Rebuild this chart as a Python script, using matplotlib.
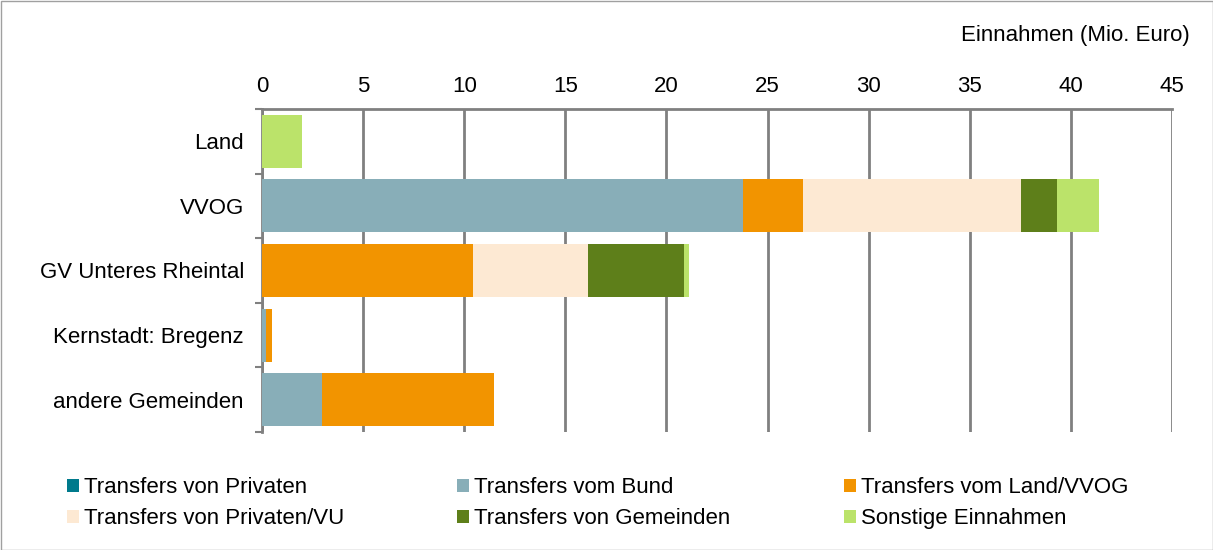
import matplotlib
matplotlib.use("Agg")
import matplotlib.pyplot as plt
from matplotlib.patches import Rectangle
import numpy as np

plt.rcParams['font.family'] = ['Liberation Sans', 'DejaVu Sans']

categories = ["Land", "VVOG", "GV Unteres Rheintal", "Kernstadt: Bregenz", "andere Gemeinden"]
series_names = ["Transfers von Privaten", "Transfers vom Bund", "Transfers vom Land/VVOG",
                "Transfers von Privaten/VU", "Transfers von Gemeinden", "Sonstige Einnahmen"]
privaten = [0.0, 0.0, 0.0, 0.0, 0.0]
bund = [0.0, 23.8, 0.0, 0.2, 2.95]
land_vvog = [0.0, 2.95, 10.42, 0.28, 8.54]
privaten_vu = [0.0, 10.8, 5.7, 0.0, 0.0]
gemeinden = [0.0, 1.78, 4.75, 0.0, 0.0]
sonstige = [2.0, 2.08, 0.26, 0.0, 0.0]
xticks = [0, 5, 10, 15, 20, 25, 30, 35, 40, 45]

colors = ["#007A8C", "#88AEB8", "#F29400", "#FDE9D3", "#5E7F1A", "#BBE36A"]
series = [privaten, bund, land_vvog, privaten_vu, gemeinden, sonstige]
FS = 16

fig = plt.figure(figsize=(12.13, 5.5), dpi=100)
ax = fig.add_axes([262/1213, 1-432/550, (1172-262)/1213, (432-109)/550])

y = np.arange(len(categories))
left = np.zeros(len(categories))
handles = []
for vals, c, name in zip(series, colors, series_names):
    v = np.array(vals)
    h = ax.barh(y, v, left=left, height=0.82, color=c, label=name, zorder=3)
    handles.append(h)
    left += v

ax.set_ylim(len(categories)-0.5, -0.5)
ax.set_xlim(0, 45)
ax.set_xticks(xticks)
ax.xaxis.tick_top()
ax.tick_params(axis='x', length=0, labelsize=FS, pad=9, colors='black')
ax.set_yticks(y)
ax.set_yticklabels(categories, fontsize=FS)
ax.tick_params(axis='y', length=0, pad=13)
ax.set_yticks(np.arange(-0.5, len(categories)), minor=True)
ax.tick_params(axis='y', which='minor', length=5, width=1.5, color='#808080')
ax.grid(axis='x', color='#808080', linewidth=2, zorder=0)
for s in ['right', 'bottom']:
    ax.spines[s].set_visible(False)
for s in ['top', 'left']:
    ax.spines[s].set_color('#808080')
    ax.spines[s].set_linewidth(2)

fig.text(1190/1213, 1-36/550, "Einnahmen (Mio. Euro)", ha='right', va='center', fontsize=FS)

col_x = [67, 457, 844]
for i, cx in enumerate(col_x):
    hs = [handles[i], handles[i+3]]
    ls = [series_names[i], series_names[i+3]]
    fig.legend(hs, ls, ncol=1, loc='center left', bbox_to_anchor=(cx/1213, 1-503/550),
               frameon=False, fontsize=FS, handlelength=0.54, handleheight=0.54,
               handletextpad=0.22, labelspacing=0.45, borderpad=0, borderaxespad=0)

fig.patches.append(Rectangle((0.5/1213, 0.5/550), 1-1/1213, 1-1/550, transform=fig.transFigure,
                             fill=False, edgecolor='#A0A0A0', linewidth=1))
fig.savefig("out.png", dpi=100)
